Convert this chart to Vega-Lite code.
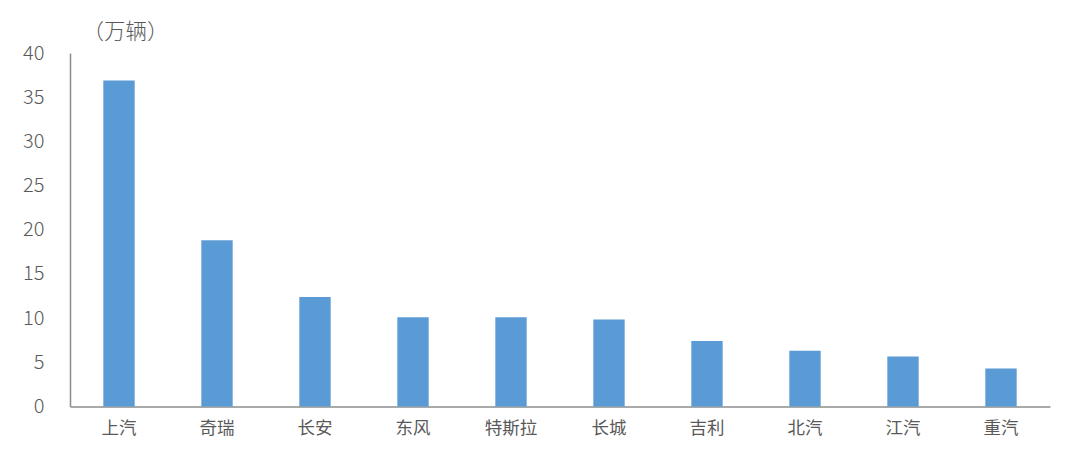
{
  "$schema": "https://vega.github.io/schema/vega-lite/v6.json",
  "autosize": {"type": "none"},
  "width": 980,
  "height": 353.5,
  "padding": {"left": 70, "top": 53, "right": 30, "bottom": 53.5},
  "background": "white",
  "config": {
    "view": {"stroke": null},
    "font": "Noto Sans CJK SC"
  },
  "data": {
    "values": [
      {"brand": "上汽", "sales": 36.9},
      {"brand": "奇瑞", "sales": 18.8},
      {"brand": "长安", "sales": 12.4},
      {"brand": "东风", "sales": 10.1},
      {"brand": "特斯拉", "sales": 10.1},
      {"brand": "长城", "sales": 9.85},
      {"brand": "吉利", "sales": 7.4},
      {"brand": "北汽", "sales": 6.3},
      {"brand": "江汽", "sales": 5.65},
      {"brand": "重汽", "sales": 4.3}
    ]
  },
  "mark": {"type": "bar", "color": "#5B9BD5"},
  "encoding": {
    "x": {
      "field": "brand",
      "type": "nominal",
      "sort": null,
      "scale": {"paddingInner": 0.68, "paddingOuter": 0.34},
      "axis": {
        "title": null,
        "labelAngle": 0,
        "ticks": false,
        "domainColor": "#8c8c8c",
        "domainWidth": 1.5,
        "labelColor": "#595959",
        "labelFontSize": 17.5,
        "labelPadding": 13,
        "labelFont": "Noto Sans CJK SC"
      }
    },
    "y": {
      "field": "sales",
      "type": "quantitative",
      "scale": {"domain": [0, 40], "nice": false},
      "axis": {
        "values": [0, 5, 10, 15, 20, 25, 30, 35, 40],
        "grid": false,
        "ticks": false,
        "domainColor": "#8c8c8c",
        "domainWidth": 1.5,
        "labelColor": "#595959",
        "labelFontSize": 20,
        "labelPadding": 26,
        "labelFont": "Noto Sans CJK SC",
        "labelFontWeight": 300,
        "title": "（万辆）",
        "titleAngle": 0,
        "titleAlign": "left",
        "titleBaseline": "middle",
        "titleX": 12,
        "titleY": -21,
        "titleColor": "#595959",
        "titleFontSize": 21.5,
        "titleFontWeight": 300,
        "titleFont": "Noto Sans CJK SC"
      }
    }
  }
}
